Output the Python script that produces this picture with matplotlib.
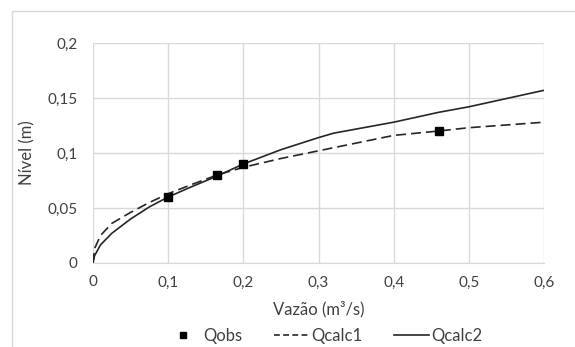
import matplotlib
matplotlib.use("Agg")
import matplotlib.pyplot as plt
from matplotlib.patches import Rectangle
from matplotlib.lines import Line2D

# observed points
q_obs = [0.1, 0.165, 0.2, 0.46]
h_obs = [0.06, 0.08, 0.09, 0.12]

# calculated curves
q_calc1 = [0, 0.002, 0.01, 0.025, 0.05, 0.075, 0.1, 0.13, 0.165, 0.2, 0.25, 0.3, 0.35, 0.4, 0.46, 0.5, 0.6]
h_calc1 = [0, 0.013, 0.025, 0.036, 0.046, 0.055, 0.063, 0.071, 0.080, 0.087, 0.095, 0.102, 0.109, 0.116, 0.120, 0.123, 0.128]

q_calc2 = [0, 0.002, 0.01, 0.025, 0.05, 0.075, 0.1, 0.13, 0.165, 0.2, 0.25, 0.3, 0.32, 0.4, 0.46, 0.5, 0.6]
h_calc2 = [0, 0.0065, 0.0165, 0.027, 0.040, 0.051, 0.060, 0.069, 0.079, 0.090, 0.103, 0.114, 0.118, 0.128, 0.137, 0.142, 0.157]

xticks = [0, 0.1, 0.2, 0.3, 0.4, 0.5, 0.6]
yticks = [0, 0.05, 0.1, 0.15, 0.2]

plt.rcParams['font.family'] = ['Lato', 'DejaVu Sans']
txt = '#404040'

fig = plt.figure(figsize=(5.75, 3.47), dpi=100)
fig.patches.append(Rectangle((12/575, -0.1), 1.2, 1 - 11/347 + 0.1, transform=fig.transFigure,
                             fill=False, edgecolor='#d9d9d9', linewidth=1))
ax = fig.add_axes([93/575, 1 - 263/347, 451/575, 220/347])

ax.plot(q_calc1, h_calc1, color='#262626', lw=1.2, ls=(0, (6, 3)), zorder=3)
ax.plot(q_calc2, h_calc2, color='#262626', lw=1.2, zorder=3)
ax.plot(q_obs, h_obs, ls='none', marker='s', ms=6, color='black', zorder=4)

ax.set_xlim(0, 0.6)
ax.set_ylim(0, 0.2)
ax.set_xticks(xticks)
ax.set_yticks(yticks)
ax.set_xticklabels([('%g' % v).replace('.', ',') for v in xticks])
ax.set_yticklabels([('%g' % v).replace('.', ',') for v in yticks])
ax.tick_params(axis='y', length=0, labelsize=11, colors=txt, pad=11)
ax.tick_params(axis='x', length=0, labelsize=11, colors=txt, pad=9)
ax.grid(True, color='#d9d9d9', lw=1)
ax.set_axisbelow(True)
for s in ['top', 'right', 'left']:
    ax.spines[s].set_visible(False)
ax.spines['bottom'].set_color('#d9d9d9')

ax.set_xlabel('Vazão (m³/s)', fontsize=12, color=txt, labelpad=8)
ax.set_ylabel('Nível (m)', fontsize=12, color=txt, labelpad=9)

handles = [Line2D([], [], ls='none', marker='s', ms=5, color='black'),
           Line2D([], [], color='#262626', lw=1.2, ls=(0, (3.5, 2))),
           Line2D([], [], color='#262626', lw=1.2)]
fig.legend(handles, ['Qobs', 'Qcalc1', 'Qcalc2'], loc='center', bbox_to_anchor=(324/575, 1 - 336/347),
           ncol=3, frameon=False, fontsize=12, labelcolor=txt, handlelength=2.1, columnspacing=1.9,
           handletextpad=0.15, borderpad=0)

fig.savefig('out.png', dpi=100)
